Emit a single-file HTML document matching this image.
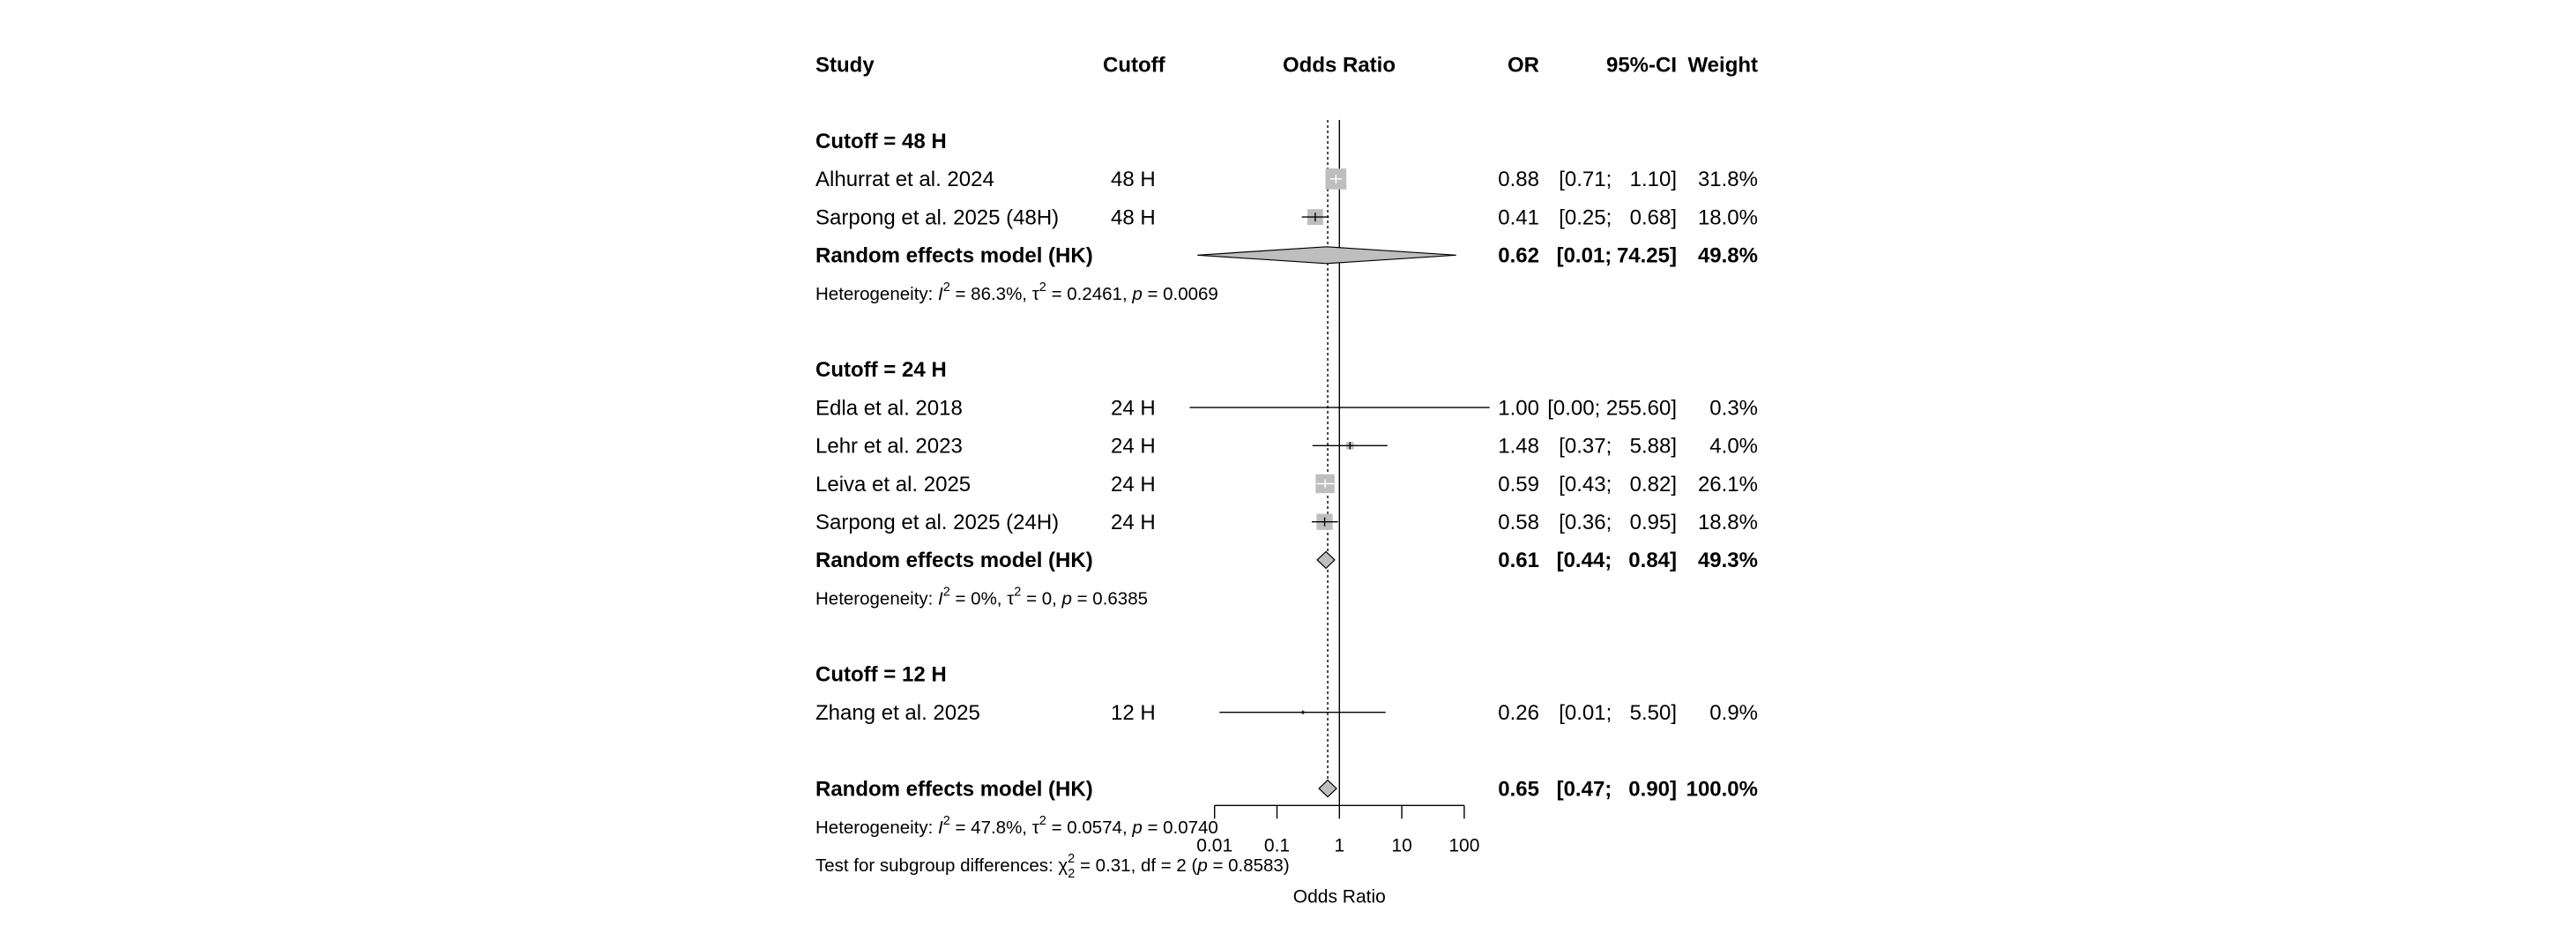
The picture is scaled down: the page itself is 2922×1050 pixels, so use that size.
<!DOCTYPE html>
<html><head><meta charset="utf-8"><style>
html,body{margin:0;padding:0;background:#fff;}
svg{display:block;font-family:"Liberation Sans",Arial,sans-serif;}
</style></head><body>
<svg id="chart" width="2922" height="1050" viewBox="0 0 2922 1050" xmlns="http://www.w3.org/2000/svg">
<rect x="0" y="0" width="2922" height="1050" fill="#fff"/>
<g id="headers" font-weight="bold" font-size="24" fill="#000">
<text x="925" y="81.6">Study</text>
<text x="1251" y="81.6">Cutoff</text>
<text x="1519" y="81.6" text-anchor="middle">Odds Ratio</text>
<text x="1746" y="81.6" text-anchor="end">OR</text>
<text x="1902" y="81.6" text-anchor="end">95%-CI</text>
<text x="1994" y="81.6" text-anchor="end">Weight</text>
</g>
<g id="groups" font-weight="bold" font-size="24">
<text x="925" y="167.9">Cutoff = 48 H</text>
<text x="925" y="427.1">Cutoff = 24 H</text>
<text x="925" y="772.7">Cutoff = 12 H</text>
</g>
<g id="het" font-size="20.5">
<text x="925" y="340" xml:space="preserve">Heterogeneity: <tspan font-style="italic">I</tspan><tspan dy="-10" font-size="14.5">2</tspan><tspan dy="10"> = 86.3%, τ</tspan><tspan dy="-10" font-size="14.5">2</tspan><tspan dy="10"> = 0.2461, </tspan><tspan font-style="italic">p</tspan> = 0.0069</text>
<text x="925" y="685.6" xml:space="preserve">Heterogeneity: <tspan font-style="italic">I</tspan><tspan dy="-10" font-size="14.5">2</tspan><tspan dy="10"> = 0%, τ</tspan><tspan dy="-10" font-size="14.5">2</tspan><tspan dy="10"> = 0, </tspan><tspan font-style="italic">p</tspan> = 0.6385</text>
<text x="925" y="944.8" xml:space="preserve">Heterogeneity: <tspan font-style="italic">I</tspan><tspan dy="-10" font-size="14.5">2</tspan><tspan dy="10"> = 47.8%, τ</tspan><tspan dy="-10" font-size="14.5">2</tspan><tspan dy="10"> = 0.0574, </tspan><tspan font-style="italic">p</tspan> = 0.0740</text>
<text x="925" y="988" xml:space="preserve">Test for subgroup differences: χ<tspan dy="-10" font-size="14.5">2</tspan><tspan dx="-8" dy="17" font-size="14.5">2</tspan><tspan dy="-7"> = 0.31, df = 2 (</tspan><tspan font-style="italic">p</tspan> = 0.8583)</text>
</g>
<g id="plot"></g>
</svg>
<script>
// study data
const studyNames = ["Alhurrat et al. 2024","Sarpong et al. 2025 (48H)","Edla et al. 2018","Lehr et al. 2023","Leiva et al. 2025","Sarpong et al. 2025 (24H)","Zhang et al. 2025"];
const studyCutoffs = ["48 H","48 H","24 H","24 H","24 H","24 H","12 H"];
const studyOR = [0.88,0.41,1.00,1.48,0.59,0.58,0.26];
const studyLow = [0.71,0.25,0.004,0.37,0.43,0.36,0.012];
const studyHigh = [1.10,0.68,255.60,5.88,0.82,0.95,5.50];
const studyWeight = [31.8,18.0,0.3,4.0,26.1,18.8,0.9];
const studyRow = [3,4,9,10,11,12,17];
// pooled estimates
const poolLabels = ["Random effects model (HK)","Random effects model (HK)","Random effects model (HK)"];
const poolOR = [0.62,0.61,0.65];
const poolLow = [0.0053,0.44,0.47];
const poolHigh = [74.25,0.84,0.90];
const poolWeight = [49.8,49.3,100.0];
const poolRow = [5,13,19];
// axis
const tickValues = [0.01,0.1,1,10,100];
const tickLabels = ["0.01","0.1","1","10","100"];

const NS="http://www.w3.org/2000/svg";
const plot=document.getElementById('plot');
const X0=1519.3, DEC=70.8, XMIN=1349, XMAX=1690;
function xs(v){return X0+DEC*Math.log10(v);}
function clip(x){return Math.max(XMIN,Math.min(XMAX,x));}
function rowY(k){return 73.3+43.2*k;}
function mk(tag,attrs,parent){const e=document.createElementNS(NS,tag);for(const k in attrs)e.setAttribute(k,attrs[k]);(parent||plot).appendChild(e);return e;}
function txt(s,x,y,anchor,bold){const t=mk('text',{x:x,y:y,'font-size':24,'text-anchor':anchor||'start','font-weight':bold?'bold':'normal'});t.setAttribute('xml:space','preserve');t.textContent=s;return t;}
function ciText(lo,hi,y,bold,nm){
  const l=lo.toFixed(2),h=hi.toFixed(2);
  if(h.length>=6){const t=txt('['+l+'; '+h+']',1902,y,'end',bold);
    
    }
  else{const a=txt('['+l+';',1828.3,y,'end',bold);
    
    
    const b=txt(h+']',1902,y,'end',bold);
    
    }
}
// reference lines
const yTop=136, yAxis=913.3;
const ref=mk('line',{x1:X0,x2:X0,y1:yTop,y2:yAxis,stroke:'#000','stroke-width':1.4});


const overallX=xs(poolOR[2]);
const dash=mk('line',{x1:overallX,x2:overallX,y1:yTop,y2:rowY(poolRow[2])-10,stroke:'#000','stroke-width':1.4,'stroke-dasharray':'3,3'});


// studies
for(let i=0;i<studyNames.length;i++){
  const yc=rowY(studyRow[i]), yb=yc+8.3;
  const n=txt(studyNames[i],925,yb);
  
  
  const c=txt(studyCutoffs[i],1260,yb);
  
  
  const o=txt(studyOR[i].toFixed(2),1746,yb,'end');
  
  
  ciText(studyLow[i],studyHigh[i],yb,false,'study-ci');
  const w=txt(studyWeight[i].toFixed(1)+'%',1994,yb,'end');
  
  
  const cx=xs(studyOR[i]); const s=Math.max(3,23.7*Math.sqrt(studyWeight[i]/31.8));
  const box=mk('rect',{x:cx-s/2,y:yc-s/2,width:s,height:s,fill:'#bebebe'});
  
  
  const x1=clip(xs(studyLow[i])), x2=clip(xs(studyHigh[i]));
  const inside = x1>=cx-s/2 && x2<=cx+s/2;
  const col = inside?'#fff':'#000';
  const ci=mk('line',{x1:x1,x2:x2,y1:yc,y2:yc,stroke:col,'stroke-width':1.4});
  
  
  const tk=mk('line',{x1:cx,x2:cx,y1:yc-Math.min(5,s/2),y2:yc+Math.min(5,s/2),stroke:col,'stroke-width':1.4});
  
  
}
// pooled
for(let i=0;i<poolLabels.length;i++){
  const yc=rowY(poolRow[i]), yb=yc+8.3;
  const n=txt(poolLabels[i],925,yb,'start',true);
  
  
  const o=txt(poolOR[i].toFixed(2),1746,yb,'end',true);
  
  
  ciText(poolLow[i],poolHigh[i],yb,true,'pooled-ci');
  const w=txt(poolWeight[i].toFixed(1)+'%',1994,yb,'end',true);
  
  
  const cx=xs(poolOR[i]), l=clip(xs(poolLow[i])), r=clip(xs(poolHigh[i])), h=9.5;
  const d=mk('polygon',{points:`${l},${yc} ${cx},${yc-h} ${r},${yc} ${cx},${yc+h}`,fill:'#bebebe',stroke:'#000','stroke-width':1.2});
  
  
}
// axis
const ax=mk('line',{x1:xs(tickValues[0]),x2:xs(tickValues[tickValues.length-1]),y1:yAxis,y2:yAxis,stroke:'#000','stroke-width':1.4});


for(let i=0;i<tickValues.length;i++){
  const x=xs(tickValues[i]);
  const t=mk('line',{x1:x,x2:x,y1:yAxis,y2:yAxis+15,stroke:'#000','stroke-width':1.4});
  
  
  const lb=mk('text',{x:x,y:965.5,'font-size':21,'text-anchor':'middle'});
  lb.textContent=tickLabels[i];
  
  
}
const xl=mk('text',{x:X0,y:1023.5,'font-size':21,'text-anchor':'middle'});
xl.textContent='Odds Ratio';


</script>
</body></html>
